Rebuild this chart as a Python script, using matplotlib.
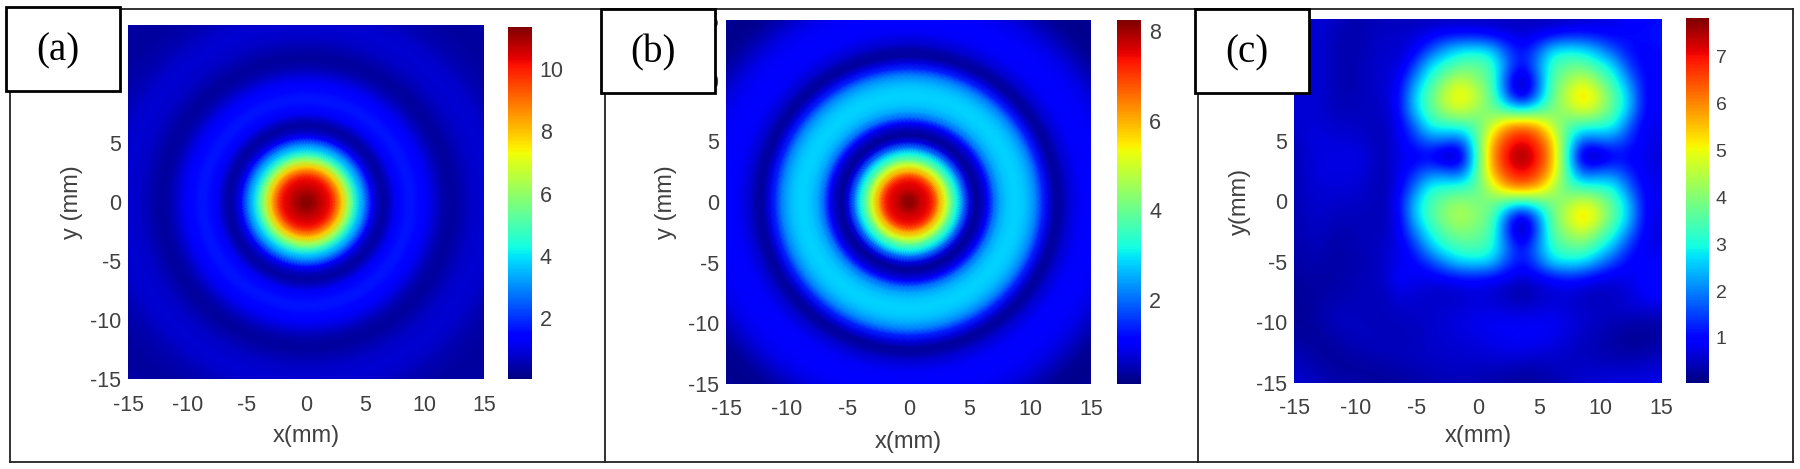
#!/usr/bin/env python3
"""Three intensity maps (a) (b) (c) with jet colorbars, framed like a pasted figure."""
import numpy as np
import matplotlib
matplotlib.use('Agg')
import matplotlib.pyplot as plt
from matplotlib.patches import Rectangle
from matplotlib.lines import Line2D

W, H = 1800, 469
TICKS = [-15, -10, -5, 0, 5, 10, 15]
GREY = '#404040'

# radial profiles of (a) and (b)
radius = [0, .5, 1, 1.5, 2, 2.5, 3, 3.5, 4, 4.5, 5, 5.5, 6, 6.5, 7, 7.5, 8, 8.5, 9, 9.5, 10,
          10.5, 11, 11.5, 12, 12.5, 13, 14, 15, 16, 17, 18, 19, 20, 21.5]
profile_a = [11.3, 11.1, 10.8, 10.5, 10.2, 9.2, 7.9, 6.3, 4.8, 3.7, 2.7, 1.45, .7, .35, .7, 1.2, 1.5, 1.65, 1.65, 1.5, 1.3,
             1.1, .75, .5, .38, .38, .5, .75, .85, .8, .6, .45, .35, .35, .45]
profile_b = [8.2, 8.0, 7.7, 7.5, 7.1, 6, 5.1, 3.9, 3.1, 2, .8, .32, .55, 1.1, 2.0, 2.5, 2.7, 2.8, 2.8, 2.7, 2.5,
             2.1, 1.4, .8, .38, .4, .7, 1.0, 1.05, 1.0, .85, .55, .3, .25, .3]

# (c): 25 x 25 samples, top row to bottom row, left column to right column
grid_c = [
 [.72,.65,.65,.5,.35,.4,.45,.45,.45,.45,.45,.45,.45,.45,.45,.45,.45,.45,.45,.55,.65,.72,.88,1.0,1.08],
 [.65,.65,.6,.4,.35,.45,.55,.55,.65,.8,1.08,1.08,1.08,.95,.8,.65,.8,.95,1.2,1.2,1.08,.95,1.08,1.08,1.15],
 [.65,.65,.6,.4,.35,.45,.6,.55,.8,1.6,2.3,2.8,2.9,2.7,1.6,1.05,1.6,2.8,2.9,2.8,2.3,1.6,1.08,.95,1.08],
 [.65,.65,.6,.4,.35,.5,.6,.65,1.4,2.7,3.2,3.6,3.7,3.4,2.0,.95,2.0,3.3,3.7,3.7,3.2,2.7,1.4,.95,1.0],
 [.65,.65,.6,.4,.35,.5,.6,.8,2.1,3.2,4.0,4.7,4.1,3.6,1.5,.1,1.5,3.6,4.2,4.8,4.0,3.2,2.1,.95,.95],
 [.65,.65,.6,.4,.4,.5,.55,.95,2.6,3.6,4.7,5.3,4.7,3.7,1.8,.3,1.8,3.7,4.7,5.6,4.8,3.6,2.6,.95,.95],
 [.6,.65,.6,.45,.45,.5,.5,.95,2.5,3.5,4.3,4.7,4.2,3.9,3.4,3.1,3.4,3.9,4.3,4.8,4.4,3.5,2.5,.95,.88],
 [.55,.65,.65,.55,.55,.5,.45,.8,1.7,3.0,3.1,3.2,3.5,4.6,5.9,6.3,5.9,4.6,3.5,3.2,3.1,3.0,1.7,.8,.8],
 [.45,.65,.72,.65,.65,.55,.4,.8,1.3,1.8,1.8,1.5,3.2,5.6,6.7,7.2,6.7,5.6,3.2,1.5,1.8,1.8,1.3,.8,.72],
 [.35,.6,.72,.72,.8,.65,.35,.8,.8,.95,.1,.3,3.0,5.8,7.1,7.8,7.1,5.8,3.0,.3,.1,.95,.95,.8,.65],
 [.35,.6,.72,.72,.72,.6,.35,.8,1.3,1.8,1.8,1.5,3.2,5.6,6.7,7.2,6.7,5.6,3.2,1.5,1.8,1.8,1.3,.8,.72],
 [.35,.55,.65,.65,.65,.55,.35,.8,1.8,3.0,3.1,3.2,3.5,4.6,5.9,6.3,5.9,4.6,3.5,3.2,3.1,3.0,1.8,.88,.8],
 [.35,.55,.6,.55,.55,.5,.4,.95,2.5,3.4,3.9,4.2,3.9,3.9,3.4,3.1,3.4,3.9,4.3,4.8,4.4,3.5,2.5,.95,.8],
 [.35,.5,.55,.45,.45,.45,.4,.8,2.5,3.4,4.1,4.5,4.1,3.7,1.8,.3,1.8,3.7,4.7,5.6,4.8,3.6,2.6,.95,.72],
 [.35,.45,.5,.35,.4,.45,.45,.8,1.9,3.0,3.6,4.0,3.8,3.5,1.5,.1,1.5,3.6,4.2,4.7,3.9,3.1,2.0,.88,.65],
 [.35,.4,.45,.3,.4,.45,.55,.72,1.3,2.4,3.1,3.4,3.5,3.2,2.0,.95,2.0,3.2,3.6,3.7,3.1,2.4,1.3,.8,.8],
 [.3,.35,.35,.3,.35,.4,.55,.8,.95,1.4,2.1,2.6,2.7,2.6,1.6,1.05,1.6,2.7,2.8,2.7,2.1,1.4,.95,.88,.95],
 [.25,.3,.3,.3,.4,.45,.55,1.0,.8,.8,.88,1.08,1.08,.95,.8,.6,.8,.95,1.2,1.08,.8,.72,.8,.95,1.0],
 [.2,.25,.3,.35,.4,.45,.45,.72,.65,.55,.5,.55,.65,.6,.45,.25,.45,.6,.65,.5,.45,.5,.65,.95,1.0],
 [.2,.25,.35,.45,.45,.45,.45,.55,.55,.55,.6,.65,.72,.72,.65,.6,.65,.72,.65,.55,.5,.55,.6,.65,.65],
 [.2,.2,.35,.5,.5,.45,.45,.45,.5,.55,.65,.72,.8,.88,.88,.88,.88,.88,.72,.6,.5,.4,.35,.3,.35],
 [.3,.25,.25,.35,.45,.5,.45,.45,.45,.55,.6,.65,.72,.8,.88,.88,.88,.8,.65,.5,.4,.3,.2,.2,.3],
 [.45,.35,.25,.25,.35,.4,.45,.45,.5,.55,.55,.6,.6,.65,.72,.72,.65,.6,.55,.45,.4,.35,.3,.35,.45],
 [.55,.45,.35,.25,.25,.25,.3,.35,.4,.45,.5,.5,.5,.45,.45,.35,.4,.45,.5,.55,.55,.55,.55,.6,.65],
 [.65,.55,.45,.4,.35,.3,.25,.25,.3,.35,.4,.4,.4,.35,.3,.25,.25,.35,.5,.6,.65,.72,.72,.72,.8],
]
x_samples_c = [-15.2 + 1.25 * k for k in range(25)]
y_samples_c = [-15.08 + 1.25 * k for k in range(25)]

# colour limits and colorbar ticks
lims_a, lims_b, lims_c = (.04, 11.36), (.13, 8.24), (.04, 7.82)
cticks_a, cticks_b, cticks_c = [2, 4, 6, 8, 10], [2, 4, 6, 8], [1, 2, 3, 4, 5, 6, 7]

plt.rcParams['font.family'] = ['Liberation Sans', 'DejaVu Sans']
plt.rcParams['axes.unicode_minus'] = False
fig = plt.figure(figsize=(W / 100, H / 100), dpi=100)


def rect(x0, y0, x1, y1):
    """pixel box (y down) to figure fractions"""
    return [x0 / W, 1 - y1 / H, (x1 - x0) / W, (y1 - y0) / H]


def style(ax, cax, ylabel, ylab_x, xlab_y, box, tick_fs, pad):
    ax.set_xlim(-15, 15); ax.set_ylim(-15, 15)
    ax.set_xticks(TICKS); ax.set_yticks(TICKS)
    ax.tick_params(length=0, labelsize=15.5, labelcolor=GREY)
    ax.tick_params(axis='x', pad=11)
    ax.tick_params(axis='y', pad=5)
    for s in ax.spines.values():
        s.set_visible(False)
    ax.set_xlabel('x(mm)', fontsize=17, color=GREY)
    ax.set_ylabel(ylabel, fontsize=17, color=GREY)
    ax.xaxis.set_label_coords(.5, -(xlab_y - 10 - box[3]) / (box[3] - box[1]))
    ax.yaxis.set_label_coords(-(box[0] - ylab_x - 10) / (box[2] - box[0]), .5)
    cax.tick_params(length=0, labelsize=tick_fs, labelcolor=GREY, pad=pad)


def radial_panel(box, cbox, r, prof, lims, cticks, ylabel, ylab_x, xlab_y, tick_fs, pad):
    ax = fig.add_axes(rect(*box)); cax = fig.add_axes(rect(*cbox))
    th = np.radians(np.arange(0, 361, 3))
    R, T = np.meshgrid(r, th)
    Z = np.tile(prof, (len(th), 1))
    m = ax.pcolormesh(R * np.cos(T), R * np.sin(T), Z, cmap='jet', vmin=lims[0], vmax=lims[1],
                      shading='gouraud', rasterized=True)
    cb = fig.colorbar(m, cax=cax, ticks=cticks); cb.outline.set_visible(False)
    style(ax, cax, ylabel, ylab_x, xlab_y, box, tick_fs, pad)


radial_panel((128.4, 25.3, 484, 379.3), (508, 26.7, 531.5, 379.3), radius, profile_a, lims_a, cticks_a,
             'y (mm)', 73, 435, 15.5, 6)
radial_panel((726, 20, 1091.4, 384), (1116.6, 20, 1141, 384), radius, profile_b, lims_b, cticks_b,
             'y (mm)', 667, 441, 15.5, 6)

box_c, cbox_c = (1294.3, 19.3, 1661.6, 383), (1686, 18, 1708.7, 383)
ax = fig.add_axes(rect(*box_c)); cax = fig.add_axes(rect(*cbox_c))
hs = 1.25 / 2
im = ax.imshow(np.array(grid_c), cmap='jet', vmin=lims_c[0], vmax=lims_c[1], aspect='auto', interpolation='bicubic',
               extent=(x_samples_c[0] - hs, x_samples_c[-1] + hs, y_samples_c[0] - hs, y_samples_c[-1] + hs))
cb = fig.colorbar(im, cax=cax, ticks=cticks_c); cb.outline.set_visible(False)
style(ax, cax, 'y(mm)', 1240.6, 435, box_c, 14, 5)

# frame lines of the pasted figure
for x0, y0, x1, y1 in [(10, 9.5, 1793, 9.5), (10, 461.5, 1793, 461.5), (10, 9.5, 10, 461.5),
                       (604.5, 9.5, 604.5, 461.5), (1198, 9.5, 1198, 461.5), (1793, 9.5, 1793, 461.5)]:
    fig.add_artist(Line2D([x0 / W, x1 / W], [1 - y0 / H, 1 - y1 / H], color='#222222', lw=1.3, zorder=5))

# (a) (b) (c) boxes
for tag, (x0, y0, x1, y1) in zip(['(a)', '(b)', '(c)'],
                                 [(6, 6.7, 120, 90.7), (601, 9.3, 715, 92.7), (1195, 9.3, 1308.7, 92.7)]):
    fig.add_artist(Rectangle((x0 / W, 1 - y1 / H), (x1 - x0) / W, (y1 - y0) / H, transform=fig.transFigure,
                             fc='white', ec='black', lw=2, zorder=6))
    fig.text((x0 + 52) / W, 1 - (y0 + 44) / H, tag, family='Liberation Serif', fontsize=28, color='black',
             ha='center', va='center', zorder=7)

fig.savefig('out.png', dpi=100)
